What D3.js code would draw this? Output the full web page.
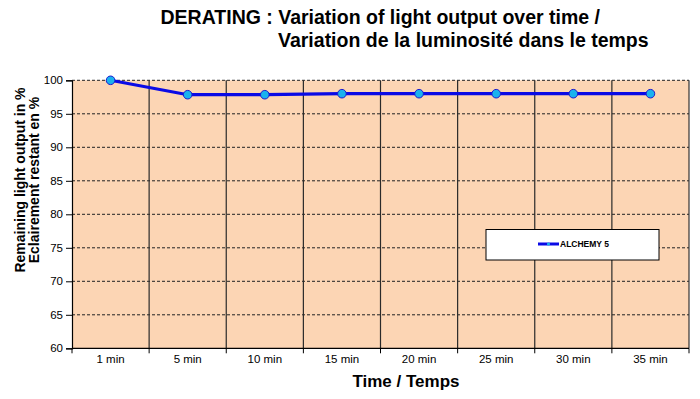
<!DOCTYPE html>
<html>
<head>
<meta charset="utf-8">
<script src="https://cdn.jsdelivr.net/npm/d3@7"></script>
<style>
  body { margin: 0; background: #fff; }
  svg { display: block; font-family: "Liberation Sans", Arial, sans-serif; }
</style>
</head>
<body>
<svg id="chart" width="700" height="399"></svg>
<script>
const categories = ['1 min', '5 min', '10 min', '15 min', '20 min', '25 min', '30 min', '35 min'];
const values = [100, 97.85, 97.85, 98.0, 98.0, 98.0, 98.0, 98.0];
const yTicks = [60, 65, 70, 75, 80, 85, 90, 95, 100];
const seriesName = 'ALCHEMY 5';

const w = 700;
const h = 399;
const plotLeft = 72, plotRight = 689, plotTop = 80.3, plotBottom = 348.3;

const svg = d3.select('#chart');

const xScale = d3.scaleBand()
  .domain(categories)
  .range([plotLeft, plotRight])
  .padding(0);

const yScale = d3.scaleLinear()
  .domain([60, 100])
  .range([plotBottom, plotTop]);

// plot background
svg.append('rect')
  .attr('x', plotLeft)
  .attr('y', plotTop)
  .attr('width', plotRight - plotLeft)
  .attr('height', plotBottom - plotTop)
  .attr('fill', '#fcd5b4');

// horizontal dashed gridlines
svg.append('g')
  .selectAll('line')
  .data(yTicks.filter(d => d > 60))
  .enter()
  .append('line')
  .attr('x1', plotLeft)
  .attr('x2', plotRight)
  .attr('y1', d => yScale(d))
  .attr('y2', d => yScale(d))
  .attr('stroke', '#222')
  .attr('stroke-width', 1)
  .attr('stroke-dasharray', '3,2');

// vertical gridlines between categories
svg.append('g')
  .selectAll('line')
  .data(categories.slice(1))
  .enter()
  .append('line')
  .attr('x1', d => xScale(d))
  .attr('x2', d => xScale(d))
  .attr('y1', plotTop)
  .attr('y2', plotBottom)
  .attr('stroke', '#2a2a2a')
  .attr('stroke-width', 1.2);

// right border
svg.append('line')
  .attr('x1', plotRight).attr('x2', plotRight)
  .attr('y1', plotTop).attr('y2', plotBottom)
  .attr('stroke', '#333')
  .attr('stroke-width', 1.2);

// y axis
const yAxis = d3.axisLeft(yScale)
  .tickValues(yTicks)
  .tickSize(6)
  .tickPadding(3);

const yG = svg.append('g')
  .attr('transform', `translate(${plotLeft},0)`)
  .call(yAxis);
yG.select('.domain').attr('stroke', '#000').attr('stroke-width', 1.2);
yG.selectAll('.tick line').attr('stroke', '#000');
yG.selectAll('.tick text')
  .attr('font-size', 11.5)
  .attr('font-family', '"Liberation Sans", Arial, sans-serif')
  .attr('fill', '#000');

// x axis: ticks at category boundaries, labels at band centers
const xG = svg.append('g')
  .attr('transform', `translate(0,${plotBottom})`);
xG.append('line')
  .attr('x1', plotLeft).attr('x2', plotRight)
  .attr('stroke', '#000').attr('stroke-width', 1.2);
xG.selectAll('.xtick')
  .data(categories.concat(['end']))
  .enter()
  .append('line')
  .attr('class', 'xtick')
  .attr('x1', (d, i) => i < categories.length ? xScale(d) : plotRight)
  .attr('x2', (d, i) => i < categories.length ? xScale(d) : plotRight)
  .attr('y1', 0).attr('y2', 5)
  .attr('stroke', '#000');
xG.selectAll('.xlabel')
  .data(categories)
  .enter()
  .append('text')
  .attr('class', 'xlabel')
  .attr('x', d => xScale(d) + xScale.bandwidth() / 2)
  .attr('y', 15)
  .attr('text-anchor', 'middle')
  .attr('font-size', 11.5)
  .text(d => d);

// line
const line = d3.line()
  .x((d, i) => xScale(categories[i]) + xScale.bandwidth() / 2)
  .y(d => yScale(d));

svg.append('path')
  .datum(values)
  .attr('d', line)
  .attr('fill', 'none')
  .attr('stroke', '#0a0ae6')
  .attr('stroke-width', 3.2);

svg.append('g')
  .selectAll('circle')
  .data(values)
  .enter()
  .append('circle')
  .attr('cx', (d, i) => xScale(categories[i]) + xScale.bandwidth() / 2)
  .attr('cy', d => yScale(d))
  .attr('r', 4.3)
  .attr('fill', '#19b2ee')
  .attr('stroke', '#1a1ad0')
  .attr('stroke-width', 1);

// legend
const legend = svg.append('g').attr('transform', 'translate(486,229.5)');
legend.append('rect')
  .attr('width', 173)
  .attr('height', 30.5)
  .attr('fill', '#fff')
  .attr('stroke', '#000')
  .attr('stroke-width', 1);
legend.append('line')
  .attr('x1', 52).attr('x2', 73)
  .attr('y1', 14.5).attr('y2', 14.5)
  .attr('stroke', '#0a0ae6')
  .attr('stroke-width', 3);
legend.append('circle')
  .attr('cx', 62.5).attr('cy', 14.5).attr('r', 1.6)
  .attr('fill', '#19b2ee');
legend.append('text')
  .attr('x', 74)
  .attr('y', 17.5)
  .attr('font-size', 8.5)
  .attr('font-weight', 'bold')
  .text(seriesName);

// titles
svg.append('text')
  .attr('x', 160.5)
  .attr('y', 24)
  .attr('font-size', 19.5)
  .attr('font-weight', 'bold')
  .text('DERATING : Variation of light output over time /');
svg.append('text')
  .attr('x', 278)
  .attr('y', 47)
  .attr('font-size', 19.5)
  .attr('font-weight', 'bold')
  .text('Variation de la luminosité dans le temps');

svg.append('text')
  .attr('x', 406)
  .attr('y', 387)
  .attr('text-anchor', 'middle')
  .attr('font-size', 17)
  .attr('font-weight', 'bold')
  .text('Time / Temps');

const yTitle = svg.append('text')
  .attr('transform', 'translate(25,180) rotate(-90)')
  .attr('text-anchor', 'middle')
  .attr('font-size', 14)
  .attr('font-weight', 'bold');
yTitle.append('tspan').attr('x', 0).attr('y', 0).text('Remaining light output in %');
yTitle.append('tspan').attr('x', 0).attr('y', 13.5).text('Eclairement restant en %');
</script>
</body>
</html>
